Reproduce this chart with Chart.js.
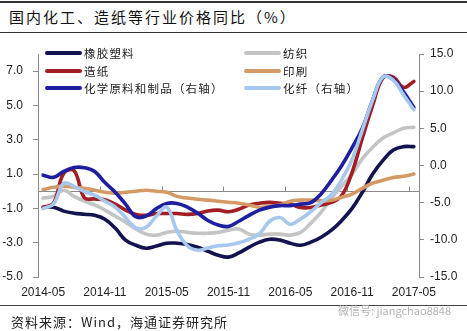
<!DOCTYPE html>
<html>
<head>
<meta charset="utf-8">
<script src="https://cdn.jsdelivr.net/npm/chart.js@4"></script>
<style>
  html, body { margin: 0; padding: 0; background: #fff; }
  #wrap { position: relative; width: 467px; height: 331px; overflow: hidden; background: #fff;
          font-family: "Noto Sans CJK SC", "Noto Sans", sans-serif; }
  #chart { position: absolute; left: 0; top: 0; }
  .rule { position: absolute; left: 0; width: 467px; background: #333; }
  #title { position: absolute; left: 9px; top: 6px; font-size: 15px; letter-spacing: 2px;
           line-height: 22px; color: #111; white-space: nowrap; }
  #source { position: absolute; left: 11px; top: 312px; font-size: 13px; letter-spacing: 1px;
            line-height: 20px; color: #222; white-space: nowrap; }
  #mark { position: absolute; left: 338px; top: 302px; font-size: 11px; line-height: 16px;
          color: #b4b4b4; white-space: nowrap; }
  #legend { position: absolute; left: 0; top: 0; width: 467px; height: 100px; pointer-events: none; }
  .lg { position: absolute; height: 18px; white-space: nowrap; font-size: 11.5px;
        letter-spacing: 1.2px; line-height: 18px; color: #222; }
  .lg i { position: absolute; left: 0; top: 7px; width: 37px; height: 4px; border-radius: 2px; }
  .lg span { position: absolute; left: 39px; top: 0; }
</style>
</head>
<body>
<div id="wrap">
  <div class="rule" style="top:1px;height:2px;"></div>
  <div id="title">国内化工、造纸等行业价格同比（%）</div>
  <div class="rule" style="top:32px;height:1px;"></div>
  <canvas id="chart" width="467" height="331"></canvas>
  <div id="legend"></div>
  <div class="rule" style="top:305px;height:1px;background:#444;"></div>
  <div id="mark">微信号: jiangchao8848</div>
  <div id="source">资料来源：Wind，海通证券研究所</div>
</div>
<script>
// Monthly categories, 2014-05 .. 2017-05
const months = [
  '2014-05','2014-06','2014-07','2014-08','2014-09','2014-10','2014-11','2014-12',
  '2015-01','2015-02','2015-03','2015-04','2015-05','2015-06','2015-07','2015-08',
  '2015-09','2015-10','2015-11','2015-12','2016-01','2016-02','2016-03','2016-04',
  '2016-05','2016-06','2016-07','2016-08','2016-09','2016-10','2016-11','2016-12',
  '2017-01','2017-02','2017-03','2017-04','2017-05'
];

// Axis tick values
const leftTicks = [-5, -3, -1, 1, 3, 5, 7];
const rightTicks = [-15, -10, -5, 0, 5, 10, 15];

// Year-on-year price change (%), left axis
const rubberPlastic = [-0.93,-0.93,-1.16,-1.28,-1.34,-1.4,-1.63,-2.15,-2.85,-3.15,-3.32,-3.2,-3.03,-3.03,-3.1,-3.26,-3.5,-3.73,-3.84,-3.6,-3.26,-2.97,-2.8,-2.85,-3.03,-3.15,-2.97,-2.68,-2.27,-1.7,-1.0,-0.06,1.0,1.8,2.4,2.6,2.6];
const textile = [-0.4,-0.3,0.06,-0.3,-0.58,-0.8,-1.1,-1.45,-1.8,-2.2,-2.5,-2.56,-2.4,-2.33,-2.4,-2.45,-2.45,-2.4,-2.27,-2.2,-2.5,-2.56,-2.5,-2.5,-2.56,-2.4,-1.86,-1.22,-0.4,0.3,1.0,1.9,2.56,3.1,3.4,3.67,3.73];
const paper = [-0.93,-0.7,1.05,1.2,-0.38,-0.45,-0.5,-0.75,-1.1,-1.35,-1.4,-1.3,-1.3,-1.3,-1.35,-1.3,-1.15,-1.1,-1.2,-1.05,-0.8,-0.7,-0.65,-0.7,-0.75,-0.95,-0.95,-0.8,-0.65,-0.25,1.1,3.1,5.0,6.6,6.65,6.05,6.4];
const printing = [0.1,0.23,0.3,0.23,0.17,0.06,-0.06,-0.12,-0.06,0.0,0.06,0.0,-0.06,-0.3,-0.4,-0.47,-0.52,-0.58,-0.64,-0.7,-0.8,-0.93,-0.87,-0.8,-0.58,-0.52,-0.52,-0.55,-0.52,-0.35,-0.17,0.17,0.47,0.64,0.8,0.87,1.0];

// Year-on-year price change (%), right axis
const chemicals = [-1.3,-1.6,-0.8,-0.27,-0.3,-0.8,-2.3,-3.6,-5.2,-6.9,-6.8,-5.8,-5.1,-5.1,-5.6,-6.4,-7.4,-8.0,-8.2,-7.5,-6.7,-6.0,-5.6,-5.4,-5.4,-5.2,-5.0,-3.8,-2.0,0.0,2.4,5.0,8.8,11.9,11.6,9.9,7.8];
const chemFiber = [-5.8,-5.2,-2.4,-2.8,-3.5,-4.0,-4.8,-5.6,-7.0,-8.4,-8.3,-6.8,-5.6,-8.8,-10.8,-11.4,-11.1,-10.8,-10.7,-10.4,-9.9,-9.2,-7.5,-7.0,-7.9,-7.2,-6.2,-5.0,-3.9,-1.9,0.8,4.8,8.8,11.9,11.5,9.5,7.5];

const series = [
  { label: '橡胶塑料', data: rubberPlastic, color: '#13134f', axis: 'y' },
  { label: '纺织', data: textile, color: '#c4c4c4', axis: 'y' },
  { label: '造纸', data: paper, color: '#a21d24', axis: 'y' },
  { label: '印刷', data: printing, color: '#d49a66', axis: 'y' },
  { label: '化学原料和制品（右轴）', data: chemicals, color: '#1e1ea0', axis: 'y1' },
  { label: '化纤（右轴）', data: chemFiber, color: '#a6c8ee', axis: 'y1' }
];

// Two-column legend inside the plot
const legend = document.getElementById('legend');
series.forEach((s, i) => {
  const item = document.createElement('div');
  item.className = 'lg';
  item.style.left = (i % 2 === 0 ? 45 : 244) + 'px';
  item.style.top = (44 + Math.floor(i / 2) * 17.5) + 'px';
  const sw = document.createElement('i');
  sw.style.background = s.color;
  const tx = document.createElement('span');
  tx.textContent = s.label;
  item.appendChild(sw);
  item.appendChild(tx);
  legend.appendChild(item);
});

// Horizontal category axis drawn through zero of the left scale
const zeroAxis = {
  id: 'zeroAxis',
  beforeDatasetsDraw(chart) {
    const { ctx, chartArea: a, scales } = chart;
    const x = scales.x, y = scales.y;
    const y0 = Math.round(y.getPixelForValue(0)) + 0.5;
    ctx.save();
    ctx.strokeStyle = '#8a8a8a';
    ctx.lineWidth = 1;
    ctx.beginPath();
    ctx.moveTo(a.left, y0);
    ctx.lineTo(a.right, y0);
    months.forEach((m, i) => {
      if (i > 0 && i % 6 === 0) {
        const bx = Math.round((x.getPixelForValue(i - 1) + x.getPixelForValue(i)) / 2) + 0.5;
        ctx.moveTo(bx, y0);
        ctx.lineTo(bx, y0 - 5);
      }
    });
    ctx.stroke();
    ctx.restore();
  }
};

const tickFont = { family: '"Liberation Sans", Arial, sans-serif', size: 12 };
const axisGray = '#8a8a8a';

new Chart(document.getElementById('chart'), {
  type: 'line',
  data: {
    labels: months,
    datasets: series.map((s, i) => ({
      label: s.label,
      data: s.data,
      yAxisID: s.axis,
      borderColor: s.color,
      backgroundColor: s.color,
      borderWidth: 3.6,
      pointRadius: 0,
      tension: 0.4,
      borderCapStyle: 'round',
      borderJoinStyle: 'round',
      fill: false,
      order: series.length - i
    }))
  },
  options: {
    responsive: false,
    animation: false,
    devicePixelRatio: 1,
    layout: { padding: { top: 54, bottom: 30, left: 0, right: 0 } },
    plugins: { legend: { display: false }, tooltip: { enabled: false } },
    scales: {
      x: {
        type: 'category',
        offset: true,
        grid: { display: false, drawTicks: false },
        border: { display: false },
        ticks: {
          autoSkip: false, maxRotation: 0, minRotation: 0, padding: 8,
          color: '#222', font: tickFont,
          callback: (v, i) => (i % 6 === 0 ? months[i] : '')
        },
        afterFit: s => { s.height = 24; }
      },
      y: {
        position: 'left',
        min: -5, max: 8,
        afterBuildTicks: s => { s.ticks = leftTicks.map(v => ({ value: v })); },
        grid: { display: true, drawOnChartArea: false, drawTicks: true, tickLength: 5, color: axisGray },
        border: { display: true, color: axisGray, width: 1 },
        ticks: { padding: 10, color: '#222', font: tickFont, callback: v => Number(v).toFixed(1) },
        afterFit: s => { s.width = 38; }
      },
      y1: {
        position: 'right',
        min: -15, max: 15,
        afterBuildTicks: s => { s.ticks = rightTicks.map(v => ({ value: v })); },
        grid: { display: true, drawOnChartArea: false, drawTicks: true, tickLength: 5, color: axisGray },
        border: { display: true, color: axisGray, width: 1 },
        ticks: { padding: 6, color: '#222', font: tickFont, callback: v => Number(v).toFixed(1) },
        afterFit: s => { s.width = 48; }
      }
    }
  },
  plugins: [zeroAxis]
});
</script>
</body>
</html>
